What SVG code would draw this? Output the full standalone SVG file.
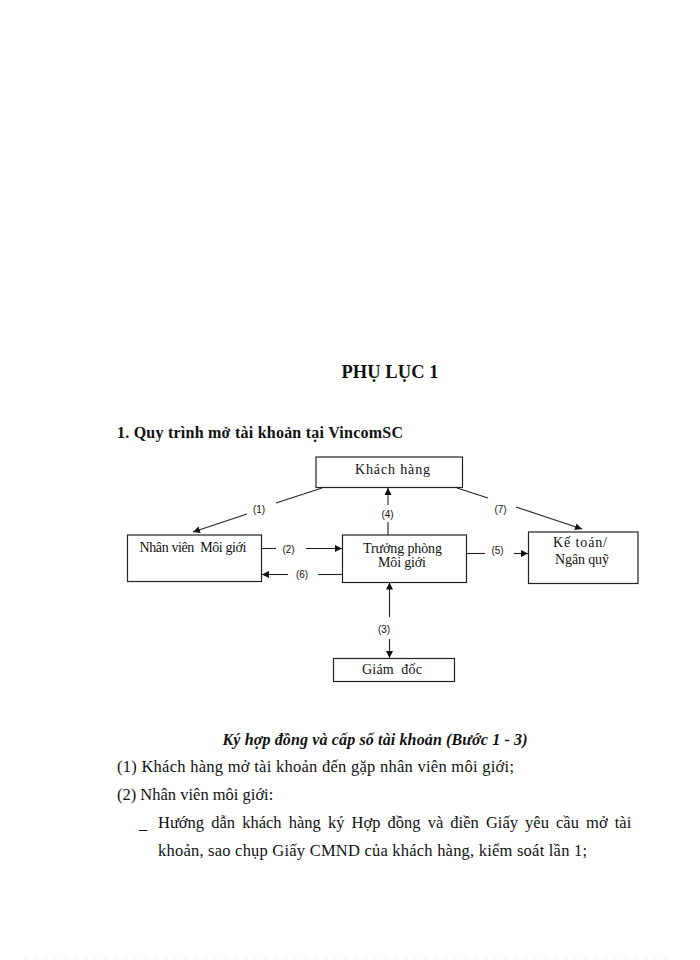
<svg xmlns="http://www.w3.org/2000/svg" width="700" height="960" viewBox="0 0 700 960">
<style>
.box{fill:#fff;stroke:#222;stroke-width:1.2}
.bt{font-family:"Liberation Serif","Times New Roman",serif;font-size:14px;fill:#111;text-anchor:middle}
.lb{font-family:"Liberation Sans",Arial,sans-serif;font-size:10px;fill:#111;text-anchor:middle}
.ln{stroke:#222;stroke-width:1.1;fill:none}
.body{font-family:"Liberation Serif","Times New Roman",serif;font-size:16.5px;fill:#111}
.h{font-family:"Liberation Serif","Times New Roman",serif;font-weight:bold;fill:#111}
</style>
<defs>
<marker id="ah" viewBox="0 0 10 10" refX="10" refY="5" markerWidth="7" markerHeight="7" markerUnits="userSpaceOnUse" orient="auto">
<path d="M0,0 L10,5 L0,10 z" fill="#111"/>
</marker>
</defs>
<rect width="700" height="960" fill="#fff"/>

<text class="h" x="390" y="378" font-size="18.5px" text-anchor="middle" textLength="97" lengthAdjust="spacing">PHỤ LỤC 1</text>
<text class="h" x="117" y="438" font-size="16px" textLength="286" lengthAdjust="spacing">1. Quy trình mở tài khoản tại VincomSC</text>

<g id="connectors">
<line class="ln" x1="322" y1="488" x2="276" y2="503"/>
<line class="ln" x1="247" y1="514" x2="193" y2="532" marker-end="url(#ah)"/>
<line class="ln" x1="388" y1="535" x2="388" y2="522"/>
<line class="ln" x1="388" y1="505" x2="388" y2="488" marker-end="url(#ah)"/>
<line class="ln" x1="457" y1="488" x2="488" y2="498"/>
<line class="ln" x1="516" y1="507" x2="582" y2="529" marker-end="url(#ah)"/>
<line class="ln" x1="262" y1="548.5" x2="276" y2="548.5"/>
<line class="ln" x1="306" y1="548.5" x2="342" y2="548.5" marker-end="url(#ah)"/>
<line class="ln" x1="342" y1="574.5" x2="318" y2="574.5"/>
<line class="ln" x1="288" y1="574.5" x2="262" y2="574.5" marker-end="url(#ah)"/>
<line class="ln" x1="467" y1="553.5" x2="485" y2="553.5"/>
<line class="ln" x1="514" y1="553.5" x2="528" y2="553.5" marker-end="url(#ah)"/>
<line class="ln" x1="389.5" y1="617" x2="389.5" y2="582.5" marker-end="url(#ah)"/>
<line class="ln" x1="389.5" y1="639" x2="389.5" y2="658" marker-end="url(#ah)"/>
<text class="lb" x="259" y="512.5">(1)</text>
<text class="lb" x="387.5" y="517.5">(4)</text>
<text class="lb" x="500.5" y="513">(7)</text>
<text class="lb" x="288.5" y="552.5">(2)</text>
<text class="lb" x="302" y="577.5">(6)</text>
<text class="lb" x="497.5" y="554">(5)</text>
<text class="lb" x="384" y="633">(3)</text>
</g>

<g id="khach-hang">
<rect class="box" x="316" y="457" width="146.5" height="30.5"/>
<text class="bt" x="392.5" y="474" textLength="75" lengthAdjust="spacing">Khách hàng</text>
</g>
<g id="nhan-vien">
<rect class="box" x="127.5" y="535" width="134" height="46.5"/>
<text class="bt" x="193" y="552" textLength="107" lengthAdjust="spacing" xml:space="preserve">Nhân viên  Môi giới</text>
</g>
<g id="truong-phong">
<rect class="box" x="342.5" y="535" width="124" height="47.5"/>
<text class="bt" x="402.5" y="552.5" textLength="79" lengthAdjust="spacing">Trưởng phòng</text>
<text class="bt" x="402" y="567" textLength="48" lengthAdjust="spacing">Môi giới</text>
</g>
<g id="ke-toan">
<rect class="box" x="528.5" y="532" width="109.5" height="51.5"/>
<text class="bt" x="580" y="547" textLength="54" lengthAdjust="spacing">Kế toán/</text>
<text class="bt" x="582" y="563.5" textLength="54" lengthAdjust="spacing">Ngân quỹ</text>
</g>
<g id="giam-doc">
<rect class="box" x="333.5" y="658.5" width="121" height="23"/>
<text class="bt" x="392" y="674" textLength="60" lengthAdjust="spacing" xml:space="preserve">Giám  đốc</text>
</g>

<text class="h" x="375" y="745" font-size="16px" font-style="italic" text-anchor="middle" textLength="305" lengthAdjust="spacing">Ký hợp đồng và cấp số tài khoản (Bước 1 - 3)</text>
<text class="body" x="117" y="772" textLength="397" lengthAdjust="spacing">(1) Khách hàng mở tài khoản đến gặp nhân viên môi giới;</text>
<text class="body" x="117" y="800">(2) Nhân viên môi giới:</text>
<text class="body" x="139" y="828.5" font-size="6px">_</text>
<text class="body" x="158" y="828" word-spacing="3">Hướng dẫn khách hàng ký Hợp đồng và điền Giấy yêu cầu mở tài</text>
<text class="body" x="158" y="856" textLength="429" lengthAdjust="spacing">khoản, sao chụp Giấy CMND của khách hàng, kiểm soát lần 1;</text>

<line x1="25" y1="958.5" x2="672" y2="958.5" stroke="#c4e6e6" stroke-width="1" stroke-dasharray="1.5 8.5"/>
</svg>
